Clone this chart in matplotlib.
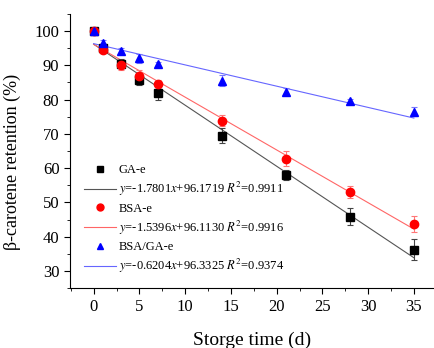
import numpy as np
import matplotlib
matplotlib.use("Agg")
import matplotlib.pyplot as plt
from matplotlib.lines import Line2D
from matplotlib.ticker import MultipleLocator

plt.rcParams['font.family'] = ['Liberation Serif', 'DejaVu Serif']
plt.rcParams['mathtext.fontset'] = 'stix'

# data
days = [0, 1, 3, 5, 7, 14, 21, 28, 35]
ga_e = [100, 95.2, 90.5, 85.6, 82.0, 69.5, 58.0, 45.8, 36.2]
ga_err = [0.5, 0.8, 1.3, 1.2, 2.0, 2.3, 1.5, 2.5, 3.0]
bsa_e = [100, 94.5, 90.2, 87.0, 84.6, 73.9, 62.8, 53.0, 43.7]
bsa_err = [0.5, 0.8, 1.5, 1.5, 1.0, 1.6, 2.1, 1.7, 2.3]
bsa_ga_e = [100, 96.5, 94.2, 92.0, 90.5, 85.5, 82.3, 79.5, 76.5]
bsa_ga_err = [0.5, 0.8, 0.9, 1.3, 0.6, 1.6, 1.0, 0.8, 1.2]

fits = [(-1.7801, 96.1719, 0.9911), (-1.5396, 96.1130, 0.9916), (-0.6204, 96.3325, 0.9374)]
names = ["GA-e", "BSA-e", "BSA/GA-e"]
colors = ["black", "red", "blue"]
line_colors = ["#555555", "#ff6666", "#6666ff"]
err_colors = ["#444444", "#ff7777", "#7777ff"]
markers = ["s", "o", "^"]

fig = plt.figure(figsize=(4.34, 3.48), dpi=100)
ax = fig.add_axes([0.161, 0.172, 0.839, 0.788])

series = [ga_e, bsa_e, bsa_ga_e]
errs = [ga_err, bsa_err, bsa_ga_err]
handles = []
labels = []
for i in range(3):
    xs = np.array([0, 35])
    ax.plot(xs, fits[i][0] * xs + fits[i][1], color=line_colors[i], lw=0.8, zorder=2)
    ax.errorbar(days, series[i], yerr=errs[i], fmt=markers[i], color=colors[i],
                ecolor=err_colors[i], elinewidth=0.8, capsize=2.5, capthick=0.8,
                markersize=6, zorder=3)
    handles.append(Line2D([], [], ls='none', marker=markers[i], color=colors[i], markersize=5))
    labels.append(names[i])
    handles.append(Line2D([], [], color=line_colors[i], lw=0.8))
    labels.append("$y$=%.4f$x$+%.4f $R^2$=%.4f" % fits[i])

ax.legend(handles, labels, loc='upper left', bbox_to_anchor=(0.025, 0.47), frameon=False,
          fontsize=9, handlelength=2.6, handletextpad=0.2, labelspacing=0.33,
          borderaxespad=0)

ax.set_xlim(-2.6, 37.2)
ax.set_ylim(25, 105)
ax.xaxis.set_major_locator(MultipleLocator(5))
ax.xaxis.set_minor_locator(MultipleLocator(2.5))
ax.yaxis.set_major_locator(MultipleLocator(10))
ax.yaxis.set_minor_locator(MultipleLocator(5))
ax.set_xticks([0, 5, 10, 15, 20, 25, 30, 35])
ax.set_yticks([30, 40, 50, 60, 70, 80, 90, 100])
ax.tick_params(which='both', direction='out', labelsize=12)
ax.tick_params(which='major', length=4)
ax.tick_params(which='minor', length=2.5)
ax.spines['top'].set_visible(False)
ax.spines['right'].set_visible(False)

ax.set_xlabel("Storge time (d)", fontsize=14, labelpad=12)
ax.set_ylabel("β-carotene retention (%)", fontsize=13, labelpad=4)
ax.yaxis.set_label_coords(-0.135, 0.46)

fig.savefig("out.png", dpi=100)
